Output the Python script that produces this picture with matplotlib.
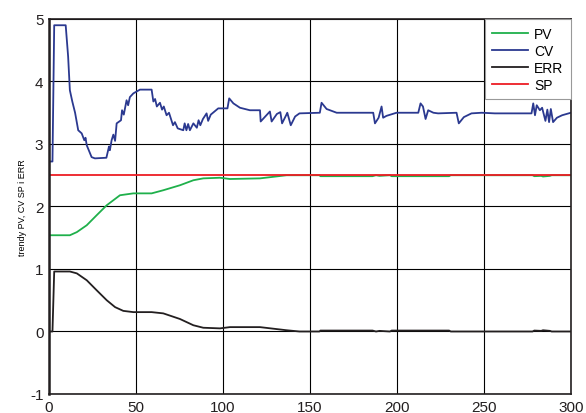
import numpy as np
import matplotlib
matplotlib.use("Agg")
import matplotlib.pyplot as plt

plt.rcParams['font.family'] = ['Liberation Sans', 'DejaVu Sans']
plt.rcParams['axes.unicode_minus'] = False

# CV (blue)
cv_t = [0, 2, 3, 9.6, 11, 12, 13.4, 15, 16.8, 18.8, 20.3, 21, 21.7, 24.5, 26.4, 33, 34.5, 35, 36,
        37, 38, 38.9, 41.4, 42, 43, 44.6, 45.5, 46.5, 48.5, 52.3, 59, 60, 61, 62, 63.8, 65, 66,
        67.6, 69, 71.3, 72.4, 74, 77.2, 78, 79, 80, 81, 83, 85, 86, 87, 88.5, 90.6, 91.5, 93,
        97.3, 102.6, 103.6, 106, 109.8, 115.5, 121.3, 121.7, 125, 127, 128, 131, 133, 134,
        136.5, 137, 139, 141.5, 144, 155.7, 156.7, 159.6, 165.4, 186.4, 187.4, 189.5, 191.2,
        192.1, 194, 199.8, 212.3, 213.6, 215, 216.5, 218, 221, 223.7, 234.3, 235.6, 238.5,
        242.9, 248.7, 256.3, 277.4, 278.4, 279.4, 280.4, 282.2, 283.5, 285.4, 286.5, 287.5,
        288.5, 289.8, 292, 295, 300]
cv_v = [2.72, 2.72, 4.9, 4.9, 4.4, 3.86, 3.68, 3.5, 3.22, 3.17, 3.06, 3.1, 2.98, 2.79, 2.77, 2.78,
        2.96, 2.9, 3.06, 3.15, 3.05, 3.33, 3.38, 3.54, 3.47, 3.7, 3.62, 3.75, 3.81, 3.87, 3.87,
        3.68, 3.72, 3.6, 3.66, 3.55, 3.6, 3.46, 3.5, 3.3, 3.35, 3.25, 3.22, 3.33, 3.22, 3.32,
        3.22, 3.33, 3.26, 3.38, 3.3, 3.4, 3.49, 3.37, 3.47, 3.57, 3.57, 3.73, 3.65, 3.58, 3.54,
        3.54, 3.36, 3.46, 3.52, 3.36, 3.48, 3.51, 3.33, 3.47, 3.5, 3.3, 3.44, 3.49, 3.5, 3.66,
        3.56, 3.5, 3.5, 3.33, 3.42, 3.6, 3.42, 3.45, 3.5, 3.5, 3.65, 3.6, 3.4, 3.54, 3.5, 3.49,
        3.5, 3.33, 3.43, 3.49, 3.5, 3.49, 3.49, 3.65, 3.46, 3.62, 3.54, 3.58, 3.37, 3.55, 3.35,
        3.56, 3.35, 3.42, 3.46, 3.5]

# PV (green)
pv_t = [0, 12, 16, 21.7, 27.4, 33.2, 37, 40.8, 48.5, 59, 65.7, 75.3, 83, 88.7, 98.3, 104, 121.3,
        136.6, 144, 155.5, 156, 186, 188, 190, 196, 197, 230, 231, 278, 279, 283, 284, 288, 289, 300]
pv_v = [1.54, 1.54, 1.59, 1.7, 1.86, 2.02, 2.1, 2.18, 2.21, 2.21, 2.26, 2.34, 2.42, 2.45, 2.46,
        2.44, 2.45, 2.5, 2.5, 2.5, 2.485, 2.485, 2.5, 2.49, 2.5, 2.485, 2.485, 2.5, 2.5, 2.485,
        2.49, 2.48, 2.49, 2.5, 2.5]

# ERR (black)
err_t = [0, 2, 3, 12, 16, 21.7, 27.4, 33.2, 38, 42.7, 48.5, 59, 65.7, 75.3, 83, 88.7, 98.3, 104,
         121.3, 136.6, 144, 155.5, 156, 186, 188, 190, 196, 197, 230, 231, 278, 279, 283, 284,
         288, 289, 300]
err_v = [0, 0, 0.96, 0.96, 0.93, 0.82, 0.66, 0.5, 0.39, 0.33, 0.31, 0.31, 0.29, 0.2, 0.1, 0.06,
         0.05, 0.07, 0.07, 0.02, 0.0, 0.0, 0.015, 0.015, 0.0, 0.01, 0.0, 0.015, 0.015, 0.0, 0.0,
         0.015, 0.01, 0.02, 0.01, 0.0, 0.0]

# SP (red)
sp_t = [0, 300]
sp_v = [2.5, 2.5]

fig = plt.figure(figsize=(5.86, 4.14), dpi=100)
ax = fig.add_axes([0.0836, 0.0459, 0.8905, 0.9058])

ax.plot(pv_t, pv_v, color='#1fb04b', lw=1.3, label='PV')
ax.plot(cv_t, cv_v, color='#2b3990', lw=1.3, label='CV')
ax.plot(err_t, err_v, color='#231f20', lw=1.3, label='ERR')
ax.plot(sp_t, sp_v, color='#ed1c24', lw=1.3, label='SP')

ax.set_xlim(0, 300)
ax.set_ylim(-1, 5)
ax.set_xticks([0, 50, 100, 150, 200, 250, 300])
ax.set_yticks([-1, 0, 1, 2, 3, 4, 5])
ax.grid(True, color='black', lw=0.8)
ax.tick_params(length=0, labelsize=11, pad=4, colors='#231f20')
for s in ax.spines.values():
    s.set_color('#231f20')
    s.set_linewidth(1.2)
ax.spines['left'].set_linewidth(1.8)
ax.set_ylabel('trendy PV, CV SP i ERR', fontsize=6.5, labelpad=2)

leg = ax.legend(loc='upper right', fontsize=10, frameon=True, fancybox=False,
                borderaxespad=0, handlelength=2.6, labelspacing=0.22, borderpad=0.55,
                handletextpad=0.4, framealpha=1)
leg.get_frame().set_edgecolor('#999999')
leg.get_frame().set_linewidth(0.8)

fig.savefig('out.png', dpi=100)
